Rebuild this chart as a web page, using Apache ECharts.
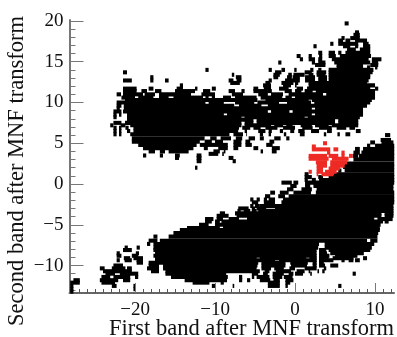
<!DOCTYPE html>
<html>
<head>
<meta charset="utf-8">
<style>html,body{margin:0;background:#fff}#chart{width:397px;height:337px}</style>
<script src="https://cdn.jsdelivr.net/npm/echarts@6/dist/echarts.min.js"></script>
</head>
<body>
<div id="chart"></div>
<script>
// tick positions
var xMajor = [-20, -10, 0, 10];
var xMinor = [-28,-27,-26,-25,-24,-23,-22,-21,-19,-18,-17,-16,-15,-14,-13,-12,-11,-9,-8,-7,-6,-5,-4,-3,-2,-1,1,2,3,4,5,6,7,8,9,11,12];
var yMajor = [-10, -5, 0, 5, 10, 15, 20];
var yMinor = [-13,-12,-11,-9,-8,-7,-6,-4,-3,-2,-1,1,2,3,4,6,7,8,9,11,12,13,14,16,17,18,19];
var xTitle = 'First band after MNF transform';
var yTitle = 'Second band after MNF transform';

// pixel runs: [y, x0, x1, x0, x1, ...]
var upperCluster = [
  [19.7, 6.2,6.7],
  [18.6, 7.5,8],
  [18.3, 7.3,8.1],
  [17.9, 5.8,6.2, 6.9,8.1],
  [17.6, 5.4,6, 6.3,6.9, 7.5,9],
  [17.2, 4.4,4.8, 5.4,7.9, 8.5,9.2],
  [16.9, 2.3,2.7, 6,6.9, 7.5,7.9, 8.5,9.4],
  [16.5, 6.5,7.6, 8.1,9.4],
  [16.1, 2.9,3.4, 4.2,5, 5.4,5.8, 6.3,9.4],
  [15.7, 0.2,0.7, 1.7,2.1, 3,3.4, 4.2,5.1, 5.6,9.5],
  [15.3, 0.6,1, 1.7,2.5, 2.9,3.4, 4.6,9.2, 9.6,10.8],
  [14.9, -2.1,-1.7, 2.1,2.5, 2.9,3.8, 4.9,9.4, 9.6,10.4],
  [14.6, 2.5,3.8, 5.2,8.5, 9.4,10.4],
  [14.3, 5.2,8.5, 9,9.4, 10,10.3],
  [14.0, -11.2,-10.8, -3.3,-2.9, -1.7,-1.25, -0.1,0.2, 1.9,2.3, 2.9,3.3, 4.2,9.8],
  [13.7, -21.5,-21, -2.5,-1.7, 1.2,2.1, 2.7,3.9, 4.2,9.7],
  [13.4, -7.9,-7.6, -2.7,-1.9, -0.85,-0.4, -0.2,1.2, 1.7,2.3, 2.7,3.8, 4.2,9.4],
  [13.1, -18.1,-17.7, -7.4,-6.7, -2.7,-2.1, -1,-0.4, -0.3,0.6, 1.25,2.5, 2.9,4, 4.2,9.4],
  [12.7, -21.5,-20.4, -18.1,-17.7, -16.25,-15.8, -8.3,-7.7, -7.3,-6.7, -3.3,-2.9, -1.25,0.6, 1.25,2.5, 2.9,4, 4.2,9.2],
  [12.4, -8.1,-6.9, -3.7,-3.1, -1.7,-0.2, 0,0.4, 1.7,9],
  [12.1, -14.4,-14, -4,-3, -1.5,-0.5, 0,0.2, 1.7,10],
  [11.7, -21.5,-19.8, -18.3,-17.7, -14.8,-14, -12.5,-12.2, -10.4,-9.9, -5.2,-4.6, -3.9,-3, -2,-0.8, 0.2,1, 1.5,9.4, 10,10.4],
  [11.4, -21.5,-19.8, -19.2,-18.5, -17.5,-16.7, -15,-12.5, -11.5,-10.6, -8.3,-7.5, -6.7,-6.3, -5.2,-2.9, -1.3,-0.4, 0,0.8, 1.2,2.2, 2.6,10],
  [11.0, -22.3,-21.75, -21.5,-19, -18.8,-17.5, -17,-13, -11.7,-10, -7.9,-6.5, -4.6,-3.4, -3,-1.5, -0.8,3.5, 3.9,10],
  [10.6, -21.7,-20, -19.6,-17.7, -17,-15.8, -15.2,-11.5, -11.2,-10.8, -10.4,-10, -9,-8, -7.5,-4.8, -4.3,-1.6, -1.2,-0.4, 0,10],
  [10.3, -21.25,-4.7, -3.7,1.7, 2.1,9.6],
  [10.0, -22.3,-11.2, -10.8,-8.9, -7.5,-5.1, -4.7,-2, -1,2, 2.4,9.4],
  [9.6, -22.3,-21.7, -21.4,-7.6, -7,-4.2, -3.4,9],
  [9.3, -22.3,-21.9, -21.4,2.1, 2.5,8.5],
  [8.9, -22.7,-21.7, -21.5,-3.4, -3,-0.7, -0.3,8.5],
  [8.5, -22.7,-22.3, -22,-21.7, -21,-8.9, -8.5,2.1, 2.5,8.5],
  [8.2, -22.7,-22.3, -21,-6.7, -6.3,1.2, 1.6,8.1],
  [7.9, -21,-5.2, -4.8,5, 5.4,7.9],
  [7.5, -22.7,-21.7, -21.25,-6.7, -6.3,-5.2, -4.8,5, 5.4,7.9],
  [7.2, -23.1,-22.7, -21.8,-21.2, -20.6,-6.7, -6.3,-3, -2.6,-1.5, -1.1,-0.3, 0.7,2.1, 2.5,4.2, 4.6,7.9],
  [6.9, -22.7,-22.3, -22,-21.7, -21.2,-20.8, -20.2,-7, -6.6,-5.6, -5.2,-4.3, -3.7,-2.2, -1.5,0, 0.9,2.2, 3,4.6, 5.2,6.4, 6.8,7.5],
  [6.5, -22.7,-22.3, -22,-21.7, -21,-20.6, -20.2,-7.1, -6.3,-6, -4.6,-3.7, -3.3,-2.9, -1.9,-1.5, -0.6,-0.1, 0.4,1.2, 2,3, 4,4.6, 7.6,8.2],
  [6.1, -22.7,-22.3, -22,-21.7, -20.6,-8.2, -7.7,-6.5, -6.1,-6, -4.4,-4, -3.3,-3, -1.4,-1.1, 0.6,1.2, 3.6,3.9, 5.3,5.6, 6.3,6.9],
  [5.6, -20.4,-11.3, -10.6,-9.8, -9.3,-8, -7.4,-6.6, -5.8,-5, -4.4,-3.9, -2.6,-1.8, -1.1,-0.7],
  [5.2, -20.4,-11.9, -11.3,-10.4, -10,-9, -7.7,-6.7, -6.2,-5.6, -3.2,-2.6],
  [4.8, -19.6,-12.3, -11.9,-8.4, -7.7,-6.7, -6.2,-5.4, -3.6,-2.8],
  [4.4, -19,-12.7, -11.4,-10.9, -9.6,-8.4, -7.7,-7.1, -5.2,-4.6, -2.9,-1.9],
  [4.0, -18.3,-17.5, -16.9,-16.25, -15.8,-13.3, -10.2,-9.4, -8.9,-8.7, -4.3,-4, -2.9,-2.3],
  [3.7, -10.8,-9.6, -9.1,-8.9],
  [3.5, -19,-18.6, -16.9,-16.5, -15,-14.4, -12.3,-11.7],
  [3.2, -15,-14.5, -12.3,-11.7, -8.3,-7.7],
  [2.8, -12.3,-11.7, -7.8,-7.4],
  [2.0, -12.5,-12.2]
];

var lowerCluster = [
  [6.0, 11.25,11.9],
  [5.4, 10.7,12],
  [5.1, 9.4,10, 10.8,12.3],
  [4.7, 9,9.4, 10,12.4],
  [4.3, 7.5,8.1, 8.5,12.4],
  [3.85, 7.3,8.1, 8.3,12.4],
  [3.45, 7.2,7.9, 8,12.4],
  [3.0, 7.3,12.4],
  [2.5, 6.2,12.4],
  [2.1, 6,12.4],
  [1.65, 5.4,5.8, 6.2,12.4],
  [1.2, 1.2,1.7, 4.8,12.4],
  [0.85, 1.2,2.1, 2.9,3.5, 4.2,12.4],
  [0.5, 1.2,1.6, 2.1,2.6, 3,12.4],
  [0.17, -1.7,-0.4, -0.2,0.4, 1.25,12.4],
  [-0.24, -0.6,0.2, 1.25,1.9, 2.3,12.3],
  [-0.65, -1,-0.2, 0.8,2.1, 2.7,12.3],
  [-1.06, -3.1,-2.5, -1.9,-0.8, -0.2,2, 2.6,12.4],
  [-1.5, -3.75,-3.1, -2.1,-1.25, -0.8,12.4],
  [-1.9, -5.6,-5.2, -4.8,-4.4, -3.9,-3.5, -3.3,-2.5, -1.5,12.4],
  [-2.25, -5.4,-4.6, -3.9,-2.5, -1.7,12.4],
  [-2.7, -5.6,-5.2, -5,-4.4, -4.4,12.3],
  [-3.0, -7.1,-5.8, -5.4,-5, -4.8,-3.6, -2.5,12.3],
  [-3.3, -7.2,-6.8, -6.4,-5.6, -5.4,-4.8, -4.6,12.3],
  [-3.6, -9.4,-8.75, -7.5,10.8, 11.2,12.3],
  [-3.9, -9.8,-8.3, -7.3,10.8, 11.2,12.3],
  [-4.3, -11.25,-10.2, -9.8,-9, -8.3,-7, -6,9.9, 10.3,12.2],
  [-4.6, -11.25,-10.4, -10,-9.4, -9.2,11, 11.2,11.7],
  [-5, -12,-10.8, -10,10.7],
  [-5.4, -13.5,-9.4, -9,10.6],
  [-5.65, -14.4,10.6],
  [-6, -15.2,10.4],
  [-6.45, -17.7,-17.2, -15.8,10.3],
  [-6.95, -18.3,-17.2, -16.9,9, 9.4,10.3],
  [-7.35, -18.5,-18.1, -17.7,3, 3.7,9.9],
  [-7.8, -21.3,-20.9, -19.8,-19.4, -17.7,2.9, 3.7,9.6],
  [-8.1, -21.5,-20.4, -17.7,2.7, 3,3.9, 4.2,9.4],
  [-8.5, -22.3,-21.9, -19.9,-19.5, -17.5,2.7, 3,4, 4.4,8.6],
  [-8.8, -22.3,-21.7, -20.4,-19.6, -17.7,2.7, 3,4.3, 5,7.8],
  [-9.1, -21.4,-20.6, -20.2,-19, -17.5,-4.8, -4.4,1.4, 1.8,2.7, 3,4.2, 4.7,7.3, 8.5,9],
  [-9.35, -22.3,-21.9, -21.3,-20.4, -19.8,-19, -17.5,-2.5, -2,2.7, 3,4.8, 5.8,6.2, 6.7,7.3, 7.5,8.1],
  [-9.65, -19.8,-19, -18.3,-4.6, -4.2,-1.2, -0.6,1.6, 2.2,2.7, 3,3.6],
  [-10, -22.7,-21.5, -18.3,-17, -16.5,-4.7, -4.2,-1.2, -0.5,1.5, 2.2,2.7, 3,3.75, 4.4,5.4],
  [-10.35, -24.4,-23.8, -22.9,-21.2, -21,-20.4, -18.5,-17, -16.5,-4.8, -4.2,-3, -2.6,-1.4, -0.7,0, 1.2,2.7, 3.6,3.9],
  [-10.7, -24,-20.4, -18,-17, -16.2,-4.4, -3.8,-3.2, -2.4,-0.5, 0.2,1.2, 1.7,1.9, 2.8,3, 3.4,3.7],
  [-11, -23.7,-22.5, -21.9,-19.6, -16.2,-8.6, -5.4,-4.6, -4,-3.4, -2.8,-1.4, -0.8,-0.2, 0,1, 1.9,2.1, 7.2,7.6],
  [-11.4, -24.2,-23.1, -22.7,-20.6, -20,-19.6, -15.5,-8.4, -7,-6.6, -5.4,-5.1, -4.8,-3.2, -2.8,-1.6, -1.4,-0.3],
  [-11.8, -27.7,-26.9, -24.4,-22.1, -21.5,-20.6, -13.8,-8.5, -7,-6.6, -6,-5.6, -4.4,-3.1, -2.7,-1.9, -1.2,-0.2],
  [-12.1, -28.1,-26.9, -24.2,-22.5, -12.8,-10.7, -9.3,-8.9, -3.4,-1.9, -1.2,-0.6],
  [-12.5, -28.1,-27.7, -22.9,-22.3, -20.2,-20, -10.4,-10, -7.8,-7.6, -3.4,-1.9, -1.2,-0.9, 5.4,5.8],
  [-12.9, -28.1,-27.7, -20.2,-20],
  [-13.2, -28.1,-27.7]
];

var redCluster = [
  [5, 3.5,4],
  [4.6, 2.1,2.6],
  [4.25, 2.1,4.4, 4.8,5.4],
  [3.85, 4,4.4, 5.8,6.2],
  [3.45, 1.7,4, 4.2,5.4, 5.8,6.2, 6.75,7.2],
  [3.1, 1.7,4.2, 4.6,6.7],
  [2.66, 2.6,4, 4.4,6.5],
  [2.25, 2.7,4, 4.4,6.2],
  [1.9, 2.7,3.5, 4.2,5.6],
  [1.5, 1.7,2.1, 2.7,3.5, 3.75,5.2],
  [1.2, 2.7,2.9, 3.3,4.8]
];

function toRuns(rows) {
  var runs = [];
  rows.forEach(function (r) {
    for (var i = 1; i + 1 < r.length; i += 2) {
      runs.push([r[0], r[i], r[i + 1]]);
    }
  });
  return runs;
}

function renderRun(params, api) {
  var halfH = 0.25;
  var p0 = api.coord([api.value(1), api.value(0) + halfH]);
  var p1 = api.coord([api.value(2), api.value(0) - halfH]);
  return {
    type: 'rect',
    shape: { x: p0[0], y: p0[1], width: p1[0] - p0[0], height: p1[1] - p0[1] },
    style: { fill: api.visual('color') }
  };
}

var fontName = 'Liberation Serif';
function minusLabel(v) {
  return String(v).replace('-', '\u2212');
}

var chart = echarts.init(document.getElementById('chart'), null, { renderer: 'canvas' });
chart.setOption({
  animation: false,
  grid: { left: 69.5, top: 20, width: 324.5, height: 273 },
  xAxis: [
    {
      type: 'value', min: -28.19, max: 12.37, position: 'bottom',
      splitLine: { show: false },
      axisLine: { show: true, onZero: false, lineStyle: { color: '#666', width: 2 } },
      axisTick: { show: true, inside: true, length: 10, customValues: xMajor, lineStyle: { color: '#777', width: 1 } },
      axisLabel: { show: true, customValues: xMajor, margin: 8, formatter: minusLabel, fontFamily: fontName, fontSize: 19, color: '#111' }
    },
    {
      type: 'value', min: -28.19, max: 12.37, position: 'bottom',
      splitLine: { show: false },
      axisLine: { show: false, onZero: false },
      axisTick: { show: true, inside: true, length: 4, customValues: xMinor, lineStyle: { color: '#555', width: 1 } },
      axisLabel: { show: false }
    }
  ],
  yAxis: [
    {
      type: 'value', min: -13.37, max: 20.12, position: 'left',
      splitLine: { show: false },
      axisLine: { show: true, onZero: false, lineStyle: { color: '#777', width: 2 } },
      axisTick: { show: true, inside: true, length: 14, customValues: yMajor, lineStyle: { color: '#777', width: 1 } },
      axisLabel: { show: true, customValues: yMajor, margin: 6, formatter: minusLabel, fontFamily: fontName, fontSize: 19, color: '#111' }
    },
    {
      type: 'value', min: -13.37, max: 20.12, position: 'left',
      splitLine: { show: false },
      axisLine: { show: false, onZero: false },
      axisTick: { show: true, inside: true, length: 6, customValues: yMinor, lineStyle: { color: '#777', width: 1 } },
      axisLabel: { show: false }
    }
  ],
  graphic: [
    {
      type: 'text', x: 394, y: 329,
      style: { text: xTitle, fontFamily: fontName, fontSize: 22.5, fill: '#111', align: 'right', verticalAlign: 'middle' }
    },
    {
      type: 'text', x: 17.5, y: 171, rotation: Math.PI / 2,
      style: { text: yTitle, fontFamily: fontName, fontSize: 22.5, fill: '#111', align: 'center', verticalAlign: 'middle' }
    }
  ],
  series: [
    { type: 'custom', name: 'upper', renderItem: renderRun, data: toRuns(upperCluster), itemStyle: { color: '#000' }, encode: { x: [1, 2], y: 0 } },
    { type: 'custom', name: 'lower', renderItem: renderRun, data: toRuns(lowerCluster), itemStyle: { color: '#000' }, encode: { x: [1, 2], y: 0 } },
    { type: 'custom', name: 'red', renderItem: renderRun, data: toRuns(redCluster), itemStyle: { color: '#ee2a24' }, encode: { x: [1, 2], y: 0 } }
  ]
});
</script>
</body>
</html>
